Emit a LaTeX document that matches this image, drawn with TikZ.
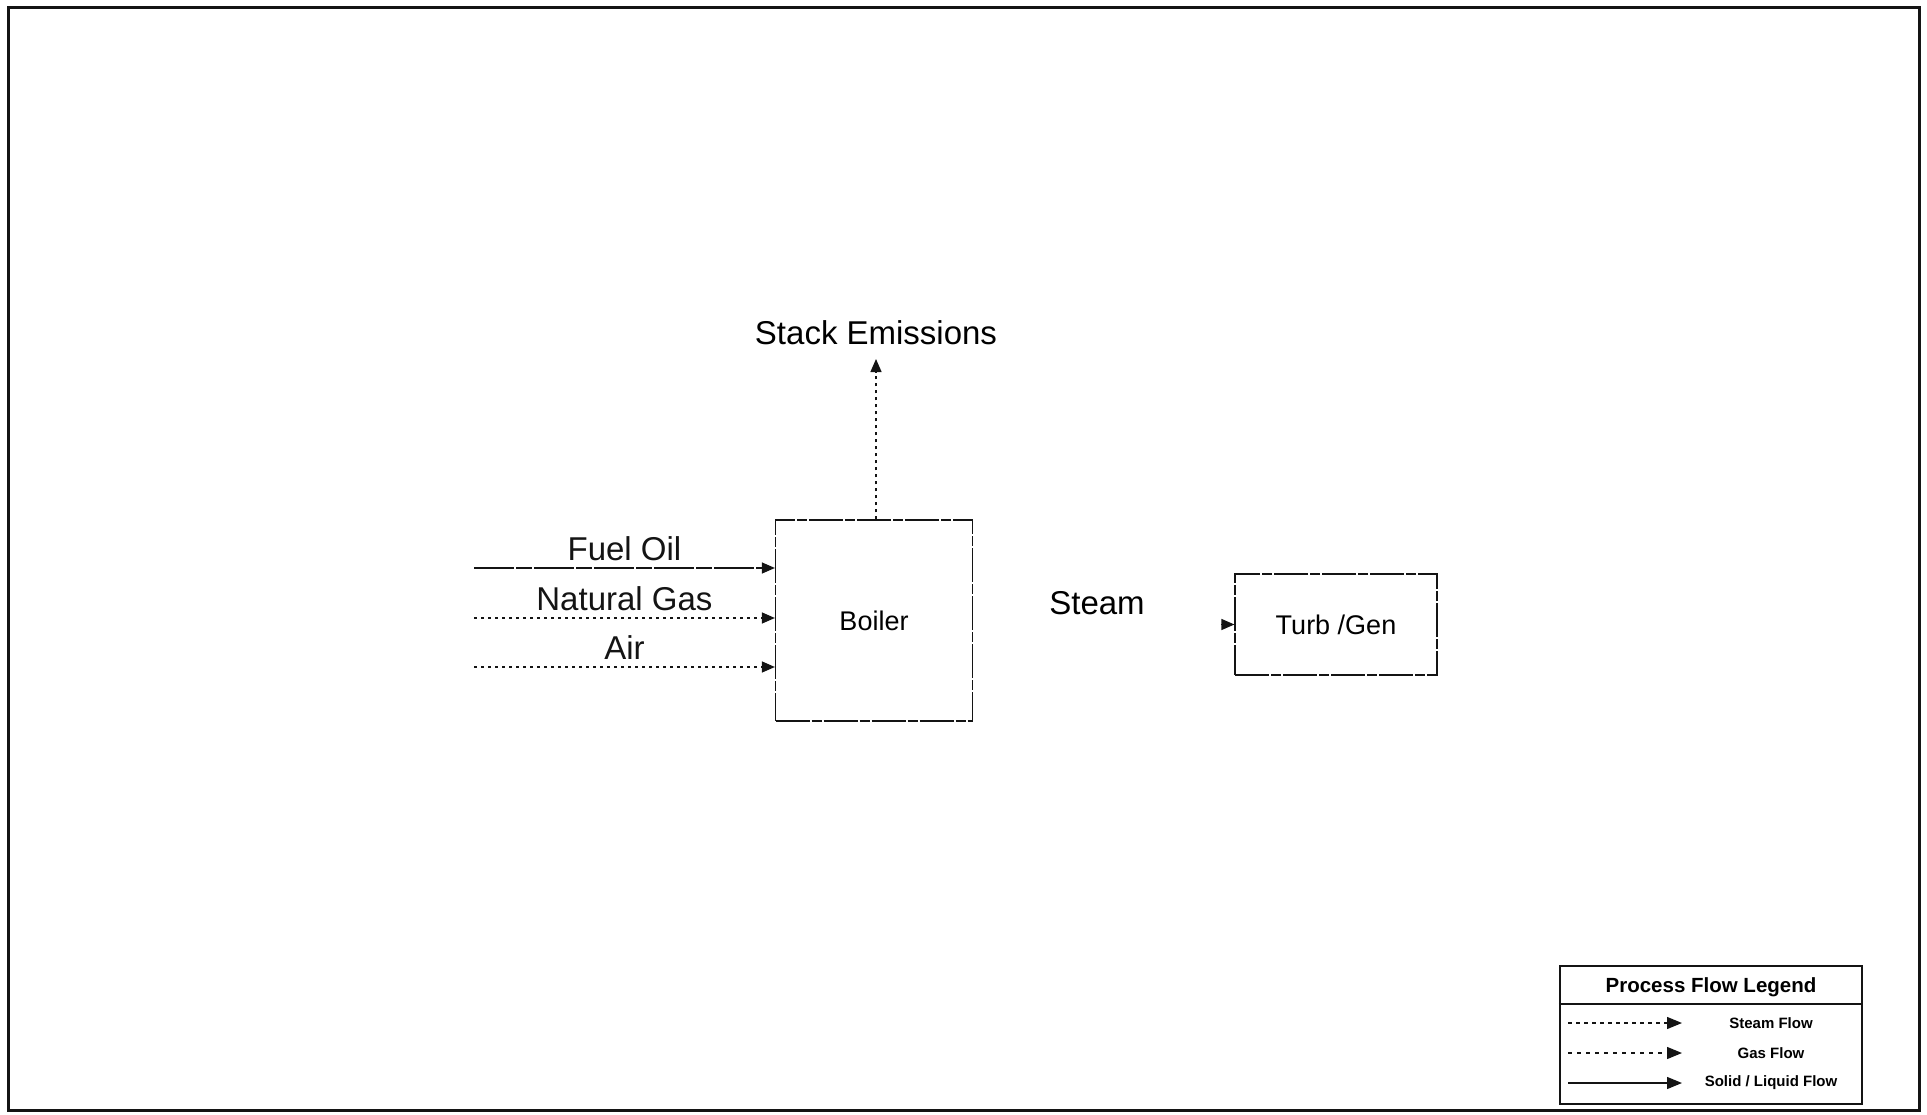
\documentclass[tikz,border=0pt]{standalone}
\usepackage{fontspec}
\setmainfont{Liberation Sans}
\usepackage{tikz}
\usetikzlibrary{arrows.meta, positioning, calc}
\definecolor{inkblack}{RGB}{20,20,20}
\tikzset{
  unit/.style={rectangle, draw=inkblack, line width=1.2pt,
    dash pattern=on 34pt off 2pt on 10pt off 2pt,
    font=\fontsize{27}{32}\selectfont, inner sep=0pt},
  flowlbl/.style={font=\fontsize{33}{40}\selectfont, inner sep=2pt},
  liqarrow/.style={-{Triangle[length=13pt,width=11pt]}, line width=1.2pt, color=inkblack,
    dash pattern=on 40pt off 2pt on 16pt off 2pt},
  gasarrow/.style={-{Triangle[length=13pt,width=11pt]}, line width=1.3pt, color=inkblack,
    dash pattern=on 3pt off 4pt},
  steamarrow/.style={-{Triangle[length=13pt,width=11pt]}, line width=1.3pt, color=inkblack},
  legtitle/.style={font=\bfseries\fontsize{20.5}{24}\selectfont, inner sep=0pt},
  legtxt/.style={font=\bfseries\fontsize{15}{18}\selectfont, inner sep=0pt},
  legline/.style={-{Triangle[length=15pt,width=12pt]}, line width=1.3pt, color=inkblack}
}

\begin{document}
\begin{tikzpicture}[x=1pt, y=-1pt]
  \useasboundingbox (0,0) rectangle (1927,1115);
  \draw[line width=3pt, color=inkblack] (8,8) rectangle (1919,1110);

  \node[unit, minimum width=197pt, minimum height=201pt] (boiler) at (874,620.5) {Boiler};
  \node[unit, minimum width=202pt, minimum height=101pt] (turb) at (1336,624.5) {Turb /Gen};

  \coordinate (stack) at (876,359);
  \node[flowlbl, above=12pt of stack] (stacklbl) {Stack Emissions};
  \draw[gasarrow] (boiler.north -| stack) -- (stack);

  \coordinate (fueloil) at (474,568);
  \coordinate (natgas) at (474,618);
  \coordinate (air) at (474,667);
  \draw[liqarrow] (fueloil) -- node[flowlbl, above=5pt] (foillbl) {Fuel Oil} (fueloil -| boiler.west);
  \draw[gasarrow] (natgas) -- node[flowlbl, above=5pt] (nglbl) {Natural Gas} (natgas -| boiler.west);
  \draw[gasarrow] (air) -- node[flowlbl, above=5pt] (airlbl) {Air} (air -| boiler.west);

  \node[flowlbl, anchor=base] (steamlbl) at (1097,614) {Steam};
  \coordinate (steamend) at (1221,624.5);
  \draw[steamarrow] (steamend) -- (turb.west);

  % legend
  \node[draw=inkblack, line width=2.5pt, minimum width=302pt, minimum height=138pt, inner sep=0pt] (legend) at (1711,1035) {};
  \node[legtitle] (legtitle) at (1711,987) {Process Flow Legend};
  \coordinate (legdiv) at (1711,1004);
  \draw[line width=1.3pt, color=inkblack] (legend.west |- legdiv) -- (legend.east |- legdiv);

  \coordinate (ls1) at (1568,1023); \coordinate (le1) at (1682,1023);
  \coordinate (ls2) at (1568,1053); \coordinate (le2) at (1682,1053);
  \coordinate (ls3) at (1568,1083); \coordinate (le3) at (1682,1083);
  \draw[legline, dash pattern=on 4pt off 4pt] (ls1) -- (le1);
  \draw[legline, dash pattern=on 4pt off 5pt] (ls2) -- (le2);
  \draw[legline] (ls3) -- (le3);
  \node[legtxt] (legsteam) at (1771,1023) {Steam Flow};
  \node[legtxt] (leggas) at (1771,1053) {Gas Flow};
  \node[legtxt] (legsolid) at (1771,1083) {Solid / Liquid Flow};
\end{tikzpicture}
\end{document}
